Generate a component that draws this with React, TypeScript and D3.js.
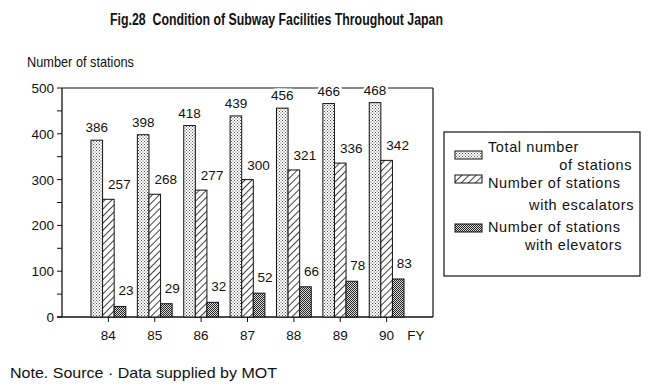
import * as d3 from 'd3';

const years = ['84', '85', '86', '87', '88', '89', '90'];
const totals = [386, 398, 418, 439, 456, 466, 468];
const escalators = [257, 268, 277, 300, 321, 336, 342];
const elevators = [23, 29, 32, 52, 66, 78, 83];
const yTicks = [0, 100, 200, 300, 400, 500];

const width = 650;
const height = 386;
const left = 62;
const right = 433;
const top = 88;
const bottom = 317;
const font = '"Liberation Sans", Arial, sans-serif';

const x = d3.scalePoint().domain(years).range([left, right]).padding(1);
const y = d3.scaleLinear().domain([0, 500]).range([bottom, top]);
const bw = x.step() * 0.25;

// series: fill pattern + label offsets (dx from bar centre, dy above bar top)
const series = [
  { values: totals, fill: 'url(#dots)', off: -1.5, ldx: 0, ldy: 8, sy: 151 },
  { values: escalators, fill: 'url(#hatch)', off: -0.5, ldx: 11, ldy: 10, sy: 175 },
  { values: elevators, fill: 'url(#checks)', off: 0.5, ldx: 6, ldy: 11, sy: 224 },
];

const App = () => {
  const minor = d3.range(0, 501, 50);
  return (
    <svg
      width={width}
      height={height}
      style={{ position: 'absolute', left: 0, top: 0, background: '#fff' }}
      fontFamily={font}
    >
      <defs>
        <pattern id="dots" patternUnits="userSpaceOnUse" width={3} height={3}>
          <rect width={3} height={3} fill="#fff" />
          <rect x={0} y={0} width={1} height={1} fill="#555" />
          <rect x={1.5} y={1.5} width={1} height={1} fill="#555" />
        </pattern>
        <pattern
          id="hatch"
          patternUnits="userSpaceOnUse"
          width={5}
          height={5}
          patternTransform="rotate(45)"
        >
          <rect width={5} height={5} fill="#fff" />
          <line x1={0} y1={0} x2={0} y2={5} stroke="#111" strokeWidth={1.6} />
        </pattern>
        <pattern id="checks" patternUnits="userSpaceOnUse" width={2} height={2}>
          <rect width={2} height={2} fill="#ddd" />
          <rect x={0} y={0} width={1} height={1} fill="#222" />
          <rect x={1} y={1} width={1} height={1} fill="#222" />
        </pattern>
      </defs>

      {/* title */}
      <text
        x={110}
        y={25}
        fontSize={16}
        fontWeight="bold"
        textLength={333}
        lengthAdjust="spacingAndGlyphs"
        fill="#111"
      >
        Fig.28{'\u00a0\u00a0'}Condition of Subway Facilities Throughout Japan
      </text>

      <text x={27} y={67} fontSize={14.5} textLength={107} lengthAdjust="spacingAndGlyphs" fill="#111">
        Number of stations
      </text>

      {/* frame */}
      <line x1={left} x2={right} y1={top} y2={top} stroke="#111" strokeWidth={1.2} />
      <line x1={right} x2={right} y1={top} y2={bottom} stroke="#111" strokeWidth={1.2} />
      <line x1={left} x2={left} y1={top} y2={bottom} stroke="#111" strokeWidth={1.3} />
      <line x1={left - 5} x2={right} y1={bottom} y2={bottom} stroke="#111" strokeWidth={1.3} />

      {minor.map((v) => (
        <line key={v} x1={left - 5} x2={left} y1={y(v)} y2={y(v)} stroke="#111" strokeWidth={1} />
      ))}
      {yTicks.map((v) => (
        <text key={v} x={54} y={y(v) + 5} fontSize={13.5} textAnchor="end" fill="#111">
          {v}
        </text>
      ))}

      {years.map((yr) => (
        <g key={yr}>
          <line x1={x(yr)} x2={x(yr)} y1={bottom} y2={bottom + 5} stroke="#111" strokeWidth={1} />
          <text x={x(yr)} y={340} fontSize={13.5} textAnchor="middle" fill="#111">
            {yr}
          </text>
        </g>
      ))}
      <text x={416} y={340} fontSize={13.5} textAnchor="middle" fill="#111">
        FY
      </text>

      {/* bars */}
      {series.map((s, si) =>
        s.values.map((v, i) => {
          const bx = x(years[i]) + s.off * bw;
          return (
            <rect
              key={si + '-' + i}
              x={bx}
              y={y(v)}
              width={bw}
              height={bottom - y(v)}
              fill={s.fill}
              stroke="#111"
              strokeWidth={1}
            />
          );
        })
      )}

      {/* value labels */}
      {series.map((s, si) =>
        s.values.map((v, i) => (
          <text
            key={'l' + si + '-' + i}
            x={x(years[i]) + (s.off + 0.5) * bw + s.ldx}
            y={y(v) - s.ldy}
            fontSize={13.5}
            textAnchor="middle"
            fill="#111"
            stroke="#fff"
            strokeWidth={5}
            paintOrder="stroke"
          >
            {v}
          </text>
        ))
      )}

      {/* legend */}
      <rect x={444} y={132} width={196} height={144} fill="none" stroke="#111" strokeWidth={1.2} />
      {series.map((s, si) => (
        <rect
          key={'sw' + si}
          x={455}
          y={s.sy}
          width={27}
          height={8}
          fill={s.fill}
          stroke="#111"
          strokeWidth={1}
        />
      ))}
      <g fontSize={14.5} letterSpacing={0.6} fill="#111">
        <text x={488} y={152}>Total number</text>
        <text x={632} y={170} textAnchor="end">of stations</text>
        <text x={488} y={188}>Number of stations</text>
        <text x={634} y={210} textAnchor="end">with escalators</text>
        <text x={488} y={232}>Number of stations</text>
        <text x={622} y={250} textAnchor="end">with elevators</text>
      </g>

      <text x={10} y={378} fontSize={14.5} textLength={267} lengthAdjust="spacingAndGlyphs" fill="#111">
        Note. Source · Data supplied by MOT
      </text>
    </svg>
  );
};

export default App;
